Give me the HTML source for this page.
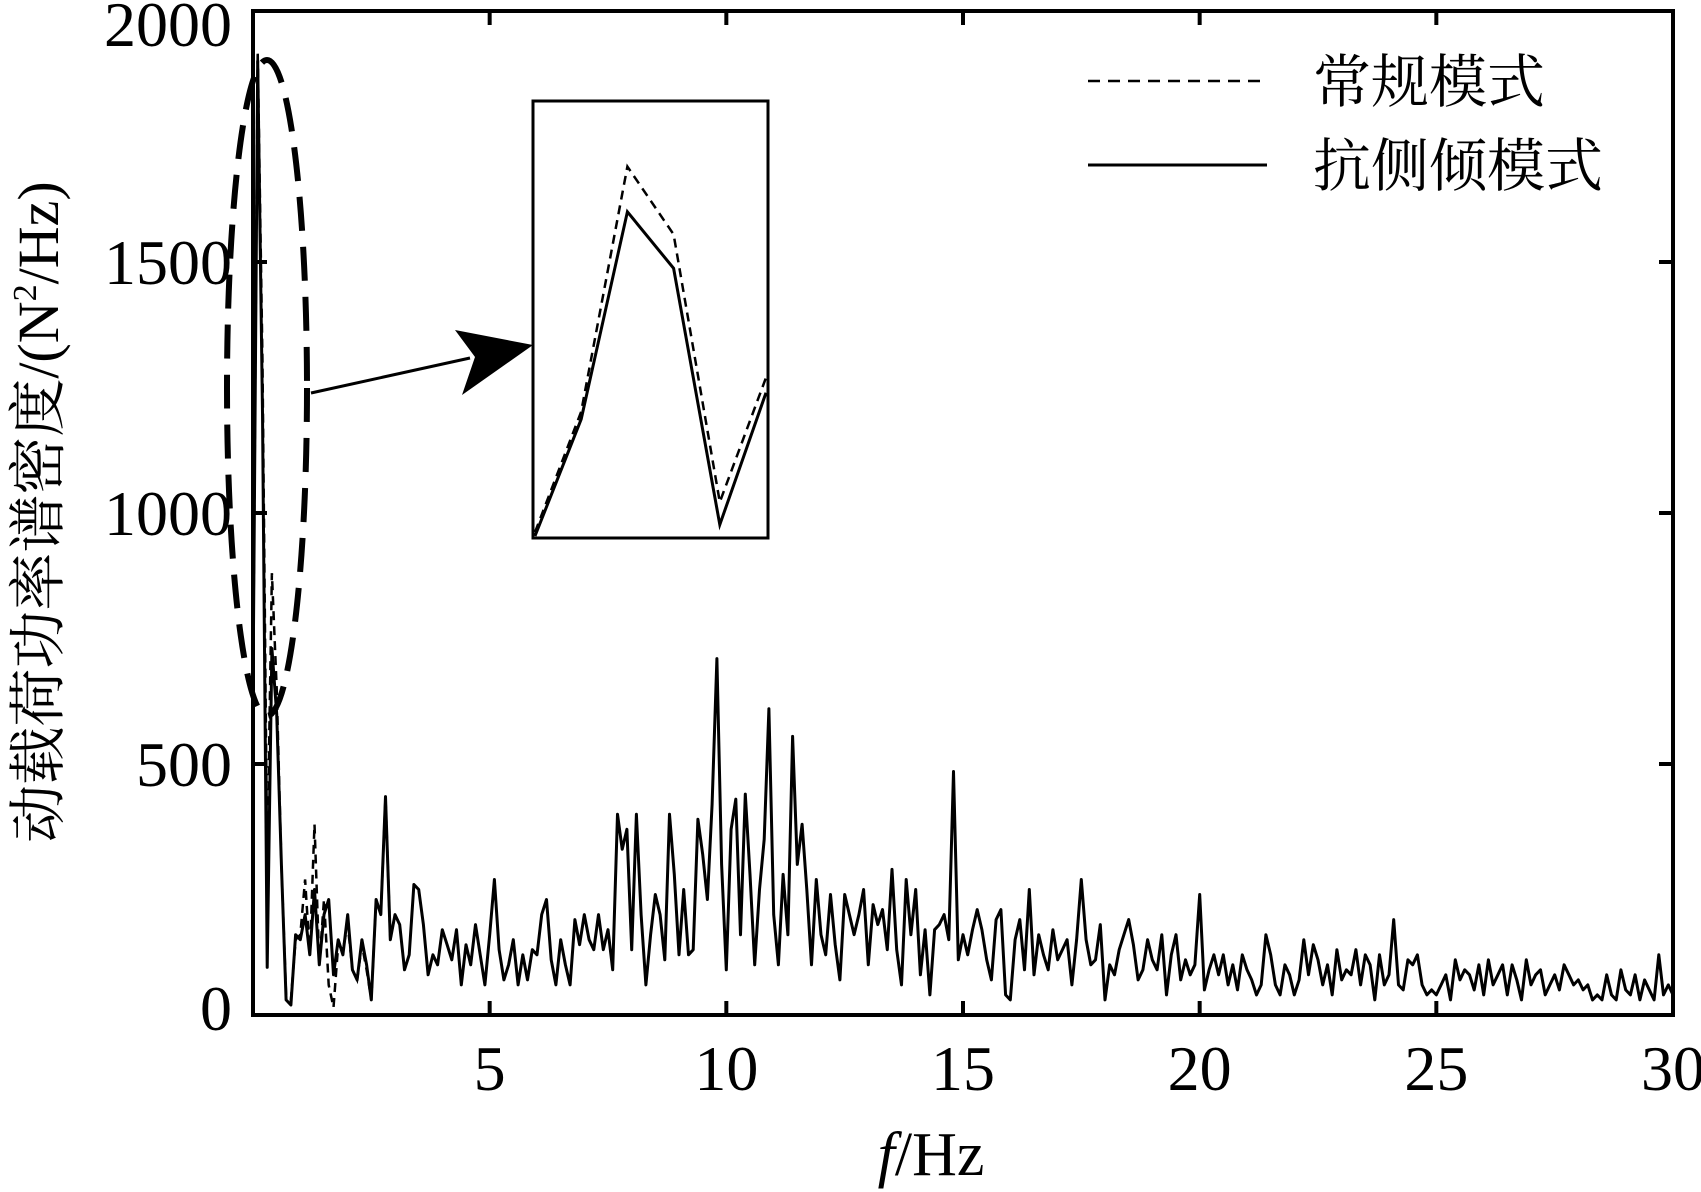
<!DOCTYPE html>
<html><head><meta charset="utf-8"><style>
html,body{margin:0;padding:0;background:#fff}
svg{display:block}
text{font-family:"Liberation Serif","Noto Serif CJK SC",serif;fill:#000}
</style></head><body>
<svg id="chart" width="1701" height="1192" viewBox="0 0 1701 1192" xmlns="http://www.w3.org/2000/svg"></svg>
<script>
const xTicks=[5,10,15,20,25,30];
const yTicks=[0,500,1000,1500,2000];
const solidValues=[640,1900,1200,95,730,600,300,30,20,160,150,200,120,250,100,200,230,80,150,120,200,90,70,150,100,30,230,200,435,150,200,180,90,120,260,250,180,80,120,100,170,140,110,170,60,140,100,180,120,60,160,270,130,70,100,150,60,120,70,130,120,200,230,110,60,150,100,60,190,140,200,150,130,200,130,170,90,400,330,370,130,400,200,60,160,240,200,110,400,280,120,250,120,130,390,320,230,420,710,300,90,370,430,160,440,280,100,250,350,610,200,100,280,160,555,300,380,250,100,270,160,120,240,140,70,240,200,160,200,250,100,220,180,210,130,290,130,60,270,160,250,80,170,40,170,180,200,150,485,110,160,120,170,210,170,110,70,190,210,40,30,150,190,90,250,80,160,120,90,170,110,130,150,60,150,270,150,100,110,180,30,100,80,130,160,190,140,70,90,150,110,90,160,40,120,160,70,110,80,100,240,50,90,120,80,120,60,100,50,120,90,70,40,60,160,120,60,40,100,80,40,70,150,80,140,110,60,100,40,130,70,90,80,130,60,120,100,30,120,60,80,190,60,50,110,100,120,60,40,50,40,60,80,30,110,70,90,80,50,100,40,110,60,80,100,40,100,70,30,110,60,80,90,40,60,80,50,100,80,60,70,50,60,30,40,30,80,40,30,90,50,40,80,30,70,50,30,120,40,60,40];
const solidStep=0.1;
const dashedValues=[640,1920,1300,300,880,650,300,40,30,150,160,270,120,380,100,230,60,15,140,130,180,90,70,140,90,30,230,200,435,150,200];
const dashedStep=0.1;
// inset (zoomed peak), normalized 0..1 heights
const insetSolid=[0,0.31,0.86,0.71,0.03,0.38];
const insetDashed=[0.01,0.33,0.98,0.80,0.09,0.42];

const svg=document.getElementById('chart');
const NS='http://www.w3.org/2000/svg';
const X0=253,X1=1673,Y0=11,Y1=1015;
const xs=f=>X0+f/30*(X1-X0);
const ys=v=>Y1-v/2000*(Y1-Y0);
function mk(t,a,p){const e=document.createElementNS(NS,t);for(const k in a)e.setAttribute(k,a[k]);(p||svg).appendChild(e);return e;}

// series
let d='';solidValues.forEach((v,i)=>{d+=(i?'L':'M')+xs(i*solidStep).toFixed(1)+','+ys(v).toFixed(1);});
let dd='';dashedValues.forEach((v,i)=>{dd+=(i?'L':'M')+xs(i*dashedStep).toFixed(1)+','+ys(v).toFixed(1);});
const dl=mk('path',{d:dd,fill:'none',stroke:'#000','stroke-width':2.5,'stroke-dasharray':'9,6'});


const sl=mk('path',{d:d,fill:'none',stroke:'#000','stroke-width':3,'stroke-linejoin':'round'});



// frame
const fr=mk('rect',{x:X0,y:Y0,width:X1-X0,height:Y1-Y0,fill:'none',stroke:'#000','stroke-width':4});



xTicks.forEach(t=>{
  const x=xs(t);
  mk('line',{x1:x,y1:Y1,x2:x,y2:Y1-14,stroke:'#000','stroke-width':4});
  mk('line',{x1:x,y1:Y0,x2:x,y2:Y0+14,stroke:'#000','stroke-width':4});
  const tx=mk('text',{x:x,y:1090,'font-size':64,'text-anchor':'middle'});
  tx.textContent=t;
  
  
});
yTicks.forEach(t=>{
  const y=ys(t);
  mk('line',{x1:X0,y1:y,x2:X0+14,y2:y,stroke:'#000','stroke-width':4});
  mk('line',{x1:X1,y1:y,x2:X1-14,y2:y,stroke:'#000','stroke-width':4});
  const ty=Math.min(Math.max(y+22,46),1030);
  const tx=mk('text',{x:232,y:ty,'font-size':64,'text-anchor':'end'});
  tx.textContent=t;
  
  
});

// ellipse highlight
const el=mk('ellipse',{cx:267,cy:388,rx:40,ry:328,fill:'none',stroke:'#000','stroke-width':6,'stroke-dasharray':'34,16'});



// arrow
const ar=mk('line',{x1:311,y1:393,x2:470,y2:358,stroke:'#000','stroke-width':3});


const ah=mk('polygon',{points:'533,345 455,330 475,357 462,395',fill:'#000'});



// inset
const IX0=533,IX1=768,IY0=101,IY1=538;
const ib=mk('rect',{x:IX0,y:IY0,width:IX1-IX0,height:IY1-IY0,fill:'#fff',stroke:'#000','stroke-width':3});


const ix=i=>IX0+2+i*(IX1-IX0-4)/(insetSolid.length-1);
const iy=v=>IY1-2-v*(IY1-IY0-60);
let ip='';insetDashed.forEach((v,i)=>{ip+=(i?'L':'M')+ix(i)+','+iy(v);});
const idl=mk('path',{d:ip,fill:'none',stroke:'#000','stroke-width':2.5,'stroke-dasharray':'9,6'});


let is='';insetSolid.forEach((v,i)=>{is+=(i?'L':'M')+ix(i)+','+iy(v);});
const isl=mk('path',{d:is,fill:'none',stroke:'#000','stroke-width':3});


</script>
<svg style="position:absolute;left:0;top:0" width="1701" height="1192" xmlns="http://www.w3.org/2000/svg">
<g>
<line x1="1088" y1="81" x2="1267" y2="81" stroke="#000" stroke-width="2.5" stroke-dasharray="12,8"/>
<text x="1313" y="102" font-size="58" style="font-family:'Liberation Serif','Noto Serif CJK SC',serif">常规模式</text>
<line x1="1088" y1="165" x2="1267" y2="165" stroke="#000" stroke-width="3"/>
<text x="1313" y="186" font-size="58" style="font-family:'Liberation Serif','Noto Serif CJK SC',serif">抗侧倾模式</text>
</g>
<text x="931" y="1175" font-size="62" text-anchor="middle" style="font-family:'Liberation Serif',serif"><tspan font-style="italic">f</tspan>/Hz</text>
<text transform="translate(58,512) rotate(-90)" font-size="58" text-anchor="middle" style="font-family:'Liberation Serif','Noto Serif CJK SC',serif">动载荷功率谱密度/(N<tspan font-size="34" dy="-22">2</tspan><tspan dy="22">/Hz)</tspan></text>
</svg>
</body></html>
